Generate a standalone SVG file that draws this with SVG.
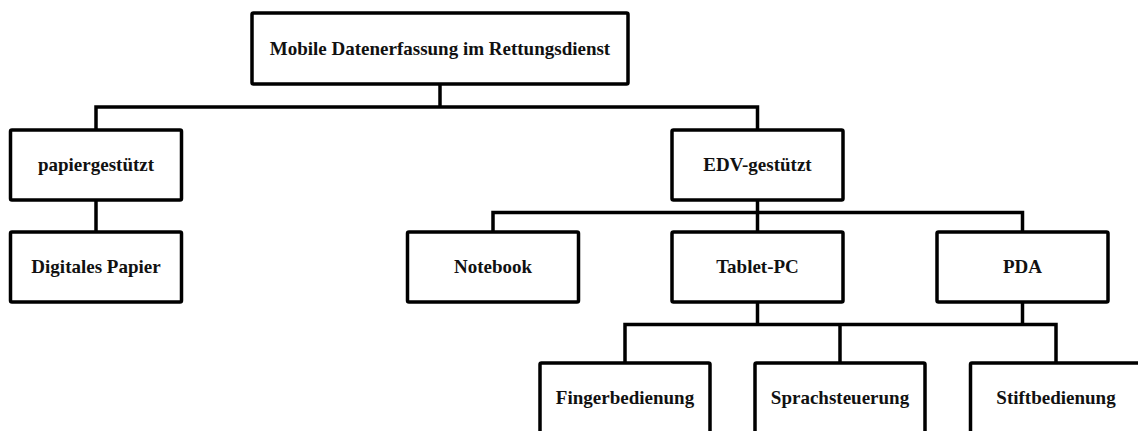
<svg xmlns="http://www.w3.org/2000/svg" width="1138" height="431" viewBox="0 0 1138 431">
  <style>
    .box { fill: #ffffff; stroke: #000000; stroke-width: 3.5; }
    .label { font-family: "Liberation Serif", "DejaVu Serif", serif; font-weight: bold; font-size: 19px; fill: #111111; text-anchor: middle; }
    .wire { fill: none; stroke: #000000; stroke-width: 3.5; stroke-linejoin: miter; }
  </style>
  <rect width="1138" height="431" fill="#ffffff"/>

  <!-- connectors -->
  <g id="connectors">
    <!-- root to level 1 -->
    <path class="wire" d="M440 84 V107"/>
    <path class="wire" d="M96 130 V107 H757.5 V130"/>
    <!-- paper branch -->
    <path class="wire" d="M96 200 V232"/>
    <!-- EDV branch -->
    <path class="wire" d="M757.5 200 V232"/>
    <path class="wire" d="M493 232 V212.5 H1022.5 V232"/>
    <!-- Tablet-PC / PDA to input methods -->
    <path class="wire" d="M757.5 302 V324.5"/>
    <path class="wire" d="M1022.5 302 V324.5"/>
    <path class="wire" d="M625 363 V324.5 H1056 V363"/>
    <path class="wire" d="M840 324.5 V363"/>
  </g>

  <g id="root">
    <rect class="box" x="252" y="13" width="376" height="71" rx="1.5"/>
    <text class="label" x="440" y="55">Mobile Datenerfassung im Rettungsdienst</text>
  </g>

  <g id="papiergestuetzt">
    <rect class="box" x="10.5" y="130" width="171" height="70" rx="1.5"/>
    <text class="label" x="96" y="171">papiergestützt</text>
  </g>

  <g id="digitales-papier">
    <rect class="box" x="10.5" y="232" width="171" height="70" rx="1.5"/>
    <text class="label" x="96" y="273">Digitales Papier</text>
  </g>

  <g id="edv-gestuetzt">
    <rect class="box" x="672" y="130" width="171" height="70" rx="1.5"/>
    <text class="label" x="757.5" y="171">EDV-gestützt</text>
  </g>

  <g id="notebook">
    <rect class="box" x="407.5" y="232" width="171" height="70" rx="1.5"/>
    <text class="label" x="493" y="273">Notebook</text>
  </g>

  <g id="tablet-pc">
    <rect class="box" x="672" y="232" width="171" height="70" rx="1.5"/>
    <text class="label" x="757.5" y="273">Tablet-PC</text>
  </g>

  <g id="pda">
    <rect class="box" x="937" y="232" width="171" height="70" rx="1.5"/>
    <text class="label" x="1022.5" y="273">PDA</text>
  </g>

  <g id="fingerbedienung">
    <rect class="box" x="540" y="363" width="170" height="70" rx="1.5"/>
    <text class="label" x="625" y="403.5">Fingerbedienung</text>
  </g>

  <g id="sprachsteuerung">
    <rect class="box" x="755" y="363" width="170" height="70" rx="1.5"/>
    <text class="label" x="840" y="403.5">Sprachsteuerung</text>
  </g>

  <g id="stiftbedienung">
    <rect class="box" x="970.5" y="363" width="171" height="70" rx="1.5"/>
    <text class="label" x="1056" y="403.5">Stiftbedienung</text>
  </g>
</svg>
